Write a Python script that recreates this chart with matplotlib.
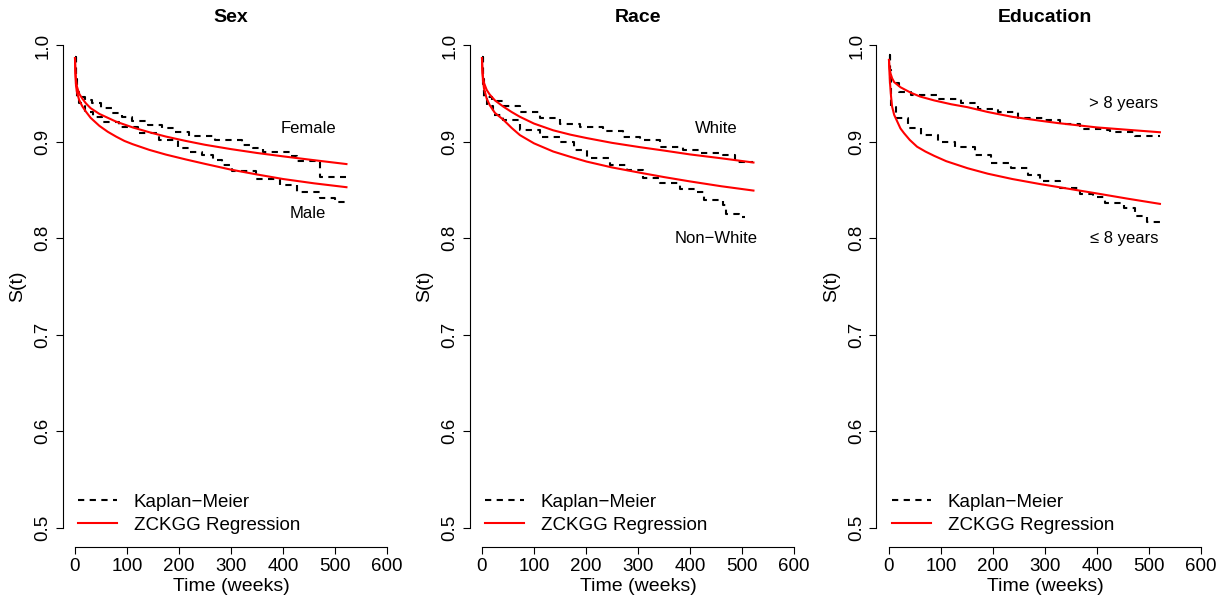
import matplotlib
matplotlib.use("Agg")
import matplotlib.pyplot as plt

plt.rcParams['font.family'] = ['Liberation Sans', 'DejaVu Sans']

# fitted survival curves (ZCKGG regression)
sex_fit_t = [0, 0.5, 1, 2, 4, 8, 14, 21, 30, 47, 63, 79, 95, 111, 143, 175,
             213, 250, 300, 350, 400, 460, 522]
female_fit = [0.987, 0.978, 0.972, 0.964, 0.957, 0.950, 0.945, 0.940, 0.935,
              0.929, 0.925, 0.921, 0.918, 0.915, 0.910, 0.9055, 0.901, 0.897,
              0.8925, 0.8885, 0.885, 0.881, 0.877]
male_fit = [0.987, 0.975, 0.968, 0.958, 0.951, 0.9435, 0.937, 0.9314, 0.925,
            0.9166, 0.9105, 0.9055, 0.901, 0.8976, 0.8917, 0.8868, 0.8818,
            0.8772, 0.8712, 0.8662, 0.8615, 0.857, 0.853]

race_fit_t = [0, 0.5, 1, 2, 4, 9, 15, 25, 41, 57, 73, 100, 137, 170, 201, 250,
              304, 350, 400, 460, 522]
white_fit = [0.987, 0.979, 0.974, 0.967, 0.961, 0.954, 0.949, 0.943, 0.9366,
             0.931, 0.926, 0.919, 0.912, 0.9075, 0.904, 0.899, 0.8945, 0.891,
             0.887, 0.883, 0.8786]
nonwhite_fit = [0.987, 0.977, 0.971, 0.963, 0.955, 0.945, 0.938, 0.930, 0.923,
                0.9145, 0.907, 0.8985, 0.890, 0.8845, 0.8796, 0.8735, 0.868,
                0.8635, 0.859, 0.854, 0.8495]

over8_fit_t = [0, 0.5, 1, 3, 6, 10, 22, 42, 60, 87, 120, 151, 190, 237, 290,
               325, 400, 460, 521]
over8_fit = [0.985, 0.980, 0.977, 0.971, 0.966, 0.962, 0.9567, 0.951, 0.947,
             0.943, 0.939, 0.936, 0.931, 0.926, 0.922, 0.9195, 0.915, 0.9125,
             0.910]
under8_fit_t = [0, 0.5, 1, 2, 4, 6, 10, 16, 22, 29, 40, 54, 70, 87, 110, 151,
                190, 237, 290, 325, 400, 460, 521]
under8_fit = [0.985, 0.978, 0.971, 0.961, 0.947, 0.9366, 0.928, 0.921, 0.914,
              0.909, 0.902, 0.895, 0.890, 0.8855, 0.880, 0.8727, 0.867, 0.8615,
              0.8563, 0.8532, 0.8465, 0.841, 0.8357]

# Kaplan-Meier step estimates
female_km_t = [0, 1, 3, 7, 20, 33, 50, 71, 90, 110, 140, 167, 190, 219, 270,
               321, 343, 362, 413, 426, 472, 522]
female_km = [0.988, 0.965, 0.952, 0.947, 0.943, 0.940, 0.935, 0.930, 0.926,
             0.922, 0.918, 0.914, 0.910, 0.906, 0.902, 0.897, 0.894, 0.889,
             0.885, 0.880, 0.864, 0.864]
male_km_t = [0, 1, 3, 7, 20, 35, 52, 84, 122, 161, 199, 220, 244, 265, 283,
             302, 349, 394, 426, 471, 500, 522]
male_km = [0.988, 0.960, 0.945, 0.940, 0.931, 0.926, 0.921, 0.915, 0.909,
           0.902, 0.8935, 0.890, 0.8865, 0.881, 0.876, 0.870, 0.862, 0.855,
           0.8485, 0.842, 0.838, 0.838]

white_km_t = [0, 1, 3, 6, 20, 41, 73, 111, 150, 188, 233, 272, 304, 342, 387,
              419, 464, 486, 522]
white_km = [0.988, 0.965, 0.952, 0.947, 0.942, 0.937, 0.931, 0.9245, 0.919,
            0.915, 0.911, 0.9055, 0.902, 0.895, 0.892, 0.888, 0.886, 0.879,
            0.879]
nonwhite_km_t = [0, 1, 3, 9, 22, 41, 73, 111, 150, 176, 201, 246, 278, 310,
                 342, 381, 413, 426, 464, 470, 495, 506]
nonwhite_km = [0.988, 0.960, 0.945, 0.937, 0.928, 0.923, 0.912, 0.9055, 0.900,
               0.8917, 0.883, 0.876, 0.871, 0.863, 0.857, 0.851, 0.8485, 0.840,
               0.8347, 0.8254, 0.8226, 0.8226]

over8_km_t = [0, 1, 4, 20, 43, 94, 139, 171, 210, 248, 299, 329, 367, 419, 425,
              473, 521]
over8_km = [0.990, 0.975, 0.961, 0.952, 0.949, 0.944, 0.940, 0.934, 0.9314,
            0.925, 0.923, 0.919, 0.913, 0.9124, 0.910, 0.906, 0.906]
under8_km_t = [0, 1, 4, 14, 37, 62, 94, 126, 165, 197, 235, 267, 290, 329, 367,
               393, 416, 451, 473, 496, 521]
under8_km = [0.990, 0.960, 0.9366, 0.9246, 0.914, 0.907, 0.900, 0.8951, 0.8865,
             0.878, 0.8727, 0.866, 0.859, 0.852, 0.846, 0.8427, 0.837, 0.8313,
             0.8233, 0.8164, 0.8164]

titles = ['Sex', 'Race', 'Education']
group_labels = [('Female', 'Male'), ('White', 'Non\u2212White'),
                ('> 8 years', '\u2264 8 years')]
x_ticks = [0, 100, 200, 300, 400, 500, 600]
y_ticks = [0.5, 0.6, 0.7, 0.8, 0.9, 1.0]

panels = [
    ((sex_fit_t, female_fit), (sex_fit_t, male_fit),
     (female_km_t, female_km), (male_km_t, male_km)),
    ((race_fit_t, white_fit), (race_fit_t, nonwhite_fit),
     (white_km_t, white_km), (nonwhite_km_t, nonwhite_km)),
    ((over8_fit_t, over8_fit), (under8_fit_t, under8_fit),
     (over8_km_t, over8_km), (under8_km_t, under8_km)),
]
# where the group names sit (time, survival)
label_xy = [((448, 0.914), (448, 0.826)),
            ((450, 0.914), (450, 0.800)),
            ((452, 0.940), (452, 0.800))]
panel_left = [62.5, 469.5, 876.5]

W, H = 1220, 597
fig = plt.figure(figsize=(W / 100, H / 100), dpi=100)

for i, (fit_a, fit_b, km_a, km_b) in enumerate(panels):
    ax = fig.add_axes([panel_left[i] / W, (H - 546.8) / H,
                       337 / W, 520.6 / H])
    km_line, = ax.plot(km_a[0], km_a[1], color='black', lw=1.5,
                       ls=(0, (3, 2.6)), drawstyle='steps-post')
    ax.plot(km_b[0], km_b[1], color='black', lw=1.5,
            ls=(0, (3, 2.6)), drawstyle='steps-post')
    fit_line, = ax.plot(fit_a[0], fit_a[1], color='red', lw=1.5)
    ax.plot(fit_b[0], fit_b[1], color='red', lw=1.5)

    for name, (tx, ty) in zip(group_labels[i], label_xy[i]):
        ax.text(tx, ty, name, ha='center', va='center', fontsize=12)

    ax.set_xlim(-24, 624)
    ax.set_ylim(0.48, 1.02)
    ax.set_xticks(x_ticks)
    ax.set_xticklabels([str(t) for t in x_ticks])
    ax.set_yticks(y_ticks)
    ax.set_yticklabels(['%.1f' % v for v in y_ticks], rotation=90,
                       va='center')
    for side in ['top', 'right']:
        ax.spines[side].set_visible(False)
    ax.spines['left'].set_bounds(0.5, 1.0)
    ax.spines['bottom'].set_bounds(0, 600)
    ax.tick_params(axis='both', direction='out', length=5, width=0.8,
                   labelsize=13.5, pad=3)
    ax.set_xlabel('Time (weeks)', fontsize=14, labelpad=2)
    ax.set_ylabel('S(t)', fontsize=14, labelpad=6)
    ax.set_title(titles[i], fontsize=14, fontweight='bold', pad=1.5)

    ax.legend([km_line, fit_line], ['Kaplan\u2212Meier', 'ZCKGG Regression'],
              loc='lower left', bbox_to_anchor=(0.045, 0.025),
              frameon=False, fontsize=13.5, handlelength=2.1,
              handletextpad=0.9, labelspacing=0.3, borderpad=0,
              borderaxespad=0)

fig.savefig('out.png', dpi=100)
